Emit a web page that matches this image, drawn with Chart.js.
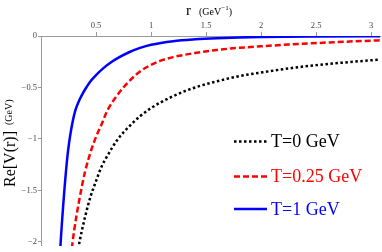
<!DOCTYPE html>
<html>
<head>
<meta charset="utf-8">
<script src="https://cdn.jsdelivr.net/npm/chart.js@4.4.0/dist/chart.umd.min.js"></script>
<style>
html, body { margin: 0; padding: 0; background: #fff; }
</style>
</head>
<body>
<canvas id="chart" width="382" height="252"></canvas>
<script>
// values
var rT0 = [0.33, 0.35, 0.4, 0.45, 0.5, 0.55, 0.6, 0.7, 0.8, 0.9, 1.0, 1.2, 1.4, 1.6, 1.8, 2.0, 2.25, 2.5, 2.75, 3.0, 3.08];
var vT0 = [-2.12, -2.0, -1.76, -1.56, -1.41, -1.27, -1.17, -1.0, -0.88, -0.78, -0.70, -0.585, -0.50, -0.44, -0.39, -0.355, -0.315, -0.283, -0.258, -0.236, -0.23];

var rT025 = [0.27, 0.3, 0.35, 0.4, 0.45, 0.5, 0.55, 0.6, 0.7, 0.8, 0.9, 1.0, 1.1, 1.2, 1.4, 1.6, 1.8, 2.0, 2.25, 2.5, 2.75, 3.0, 3.08];
var vT025 = [-2.15, -1.9, -1.58, -1.32, -1.13, -0.98, -0.86, -0.73, -0.565, -0.44, -0.345, -0.28, -0.235, -0.205, -0.165, -0.135, -0.115, -0.10, -0.083, -0.069, -0.056, -0.045, -0.042];

var rT1 = [0.17, 0.18, 0.19, 0.2, 0.21, 0.22, 0.24, 0.255, 0.27, 0.29, 0.31, 0.34, 0.37, 0.4, 0.45, 0.5, 0.57, 0.65, 0.7, 0.8, 0.9, 1.0, 1.2, 1.4, 1.6, 1.8, 2.0, 2.5, 3.0, 3.08];
var vT1 = [-2.15, -1.98, -1.82, -1.67, -1.53, -1.40, -1.17, -1.04, -0.935, -0.82, -0.73, -0.643, -0.577, -0.52, -0.44, -0.38, -0.31, -0.246, -0.213, -0.158, -0.116, -0.085, -0.05, -0.032, -0.021, -0.014, -0.009, -0.004, -0.002, -0.002];

var labels = ['T=0 GeV', 'T=0.25 GeV', 'T=1 GeV'];
var xTicks = [0.5, 1, 1.5, 2, 2.5, 3];
var yTicks = [0, -0.5, -1, -1.5, -2];

var serif = '"Liberation Serif", "DejaVu Serif", serif';

function pts(xs, ys) {
    return xs.map(function(x, i) { return {x: x, y: ys[i]}; });
}

var legendPlugin = {
    id: 'sideLegend',
    afterDraw(chart) {
        var ctx = chart.ctx;
        var rows = [141.5, 176.5, 209];
        ctx.save();
        chart.data.datasets.forEach(function(ds, i) {
            var y = rows[i];
            ctx.strokeStyle = ds.borderColor;
            ctx.lineWidth = ds.borderWidth;
            ctx.setLineDash(ds.borderDash || []);
            ctx.beginPath();
            ctx.moveTo(234, y);
            ctx.lineTo(267, y);
            ctx.stroke();
            ctx.setLineDash([]);
            ctx.fillStyle = ds.borderColor;
            ctx.font = '18px ' + serif;
            ctx.textBaseline = 'middle';
            ctx.fillText(ds.label, 271, y + 1);
        });
        ctx.restore();
    }
};

var titlePlugin = {
    id: 'axisTitles',
    afterDraw(chart) {
        var ctx = chart.ctx;
        ctx.save();
        ctx.fillStyle = '#000';
        ctx.textBaseline = 'alphabetic';
        // top axis title
        ctx.font = '15px ' + serif;
        ctx.fillText('r', 186, 15);
        ctx.font = '10px ' + serif;
        ctx.fillText('(GeV', 199, 15);
        var w = ctx.measureText('(GeV').width;
        ctx.font = '7px ' + serif;
        ctx.fillText('\u22121', 199 + w, 10);
        var w2 = ctx.measureText('\u22121').width;
        ctx.font = '10px ' + serif;
        ctx.fillText(')', 199 + w + w2, 15);
        // left axis title
        ctx.translate(15, 0);
        ctx.rotate(-Math.PI / 2);
        ctx.font = '16px ' + serif;
        ctx.fillText('Re[V(r)]', -187, 0);
        ctx.font = '10px ' + serif;
        ctx.fillText('(GeV)', -125, -3);
        ctx.restore();
    }
};

var ctx = document.getElementById('chart').getContext('2d');
new Chart(ctx, {
    type: 'line',
    data: {
        datasets: [
            {
                label: labels[0],
                data: pts(rT0, vT0),
                borderColor: '#000000',
                borderWidth: 2.5,
                borderDash: [2.5, 2.5],
                pointRadius: 0,
                fill: false,
                cubicInterpolationMode: 'monotone'
            },
            {
                label: labels[1],
                data: pts(rT025, vT025),
                borderColor: '#ff0000',
                borderWidth: 2.5,
                borderDash: [6, 3],
                pointRadius: 0,
                fill: false,
                cubicInterpolationMode: 'monotone'
            },
            {
                label: labels[2],
                data: pts(rT1, vT1),
                borderColor: '#0000ff',
                borderWidth: 2.5,
                pointRadius: 0,
                fill: false,
                cubicInterpolationMode: 'monotone'
            }
        ]
    },
    options: {
        responsive: false,
        animation: false,
        layout: { padding: { top: 0, right: 2, bottom: 0, left: 0 } },
        plugins: {
            legend: { display: false },
            tooltip: { enabled: false }
        },
        scales: {
            x: {
                type: 'linear',
                position: 'top',
                min: 0,
                max: 3.08,
                afterFit: function(s) { s.height = 36; },
                afterBuildTicks: function(s) {
                    s.ticks = xTicks.map(function(v) { return {value: v}; });
                },
                ticks: {
                    color: '#444',
                    font: { family: serif, size: 8.5 },
                    padding: 1,
                    maxRotation: 0,
                    callback: function(v) { return String(v); }
                },
                grid: { drawOnChartArea: false, tickLength: 4, color: '#999' },
                border: { color: '#999' }
            },
            y: {
                min: -2.04,
                max: 0,
                afterFit: function(s) { s.width = 41; },
                afterBuildTicks: function(s) {
                    s.ticks = yTicks.map(function(v) { return {value: v}; });
                },
                ticks: {
                    color: '#444',
                    font: { family: serif, size: 8.5 },
                    padding: 1,
                    callback: function(v) { return v === 0 ? '0' : '\u2212' + Math.abs(v); }
                },
                grid: { drawOnChartArea: false, tickLength: 3, color: '#999' },
                border: { color: '#999' }
            }
        }
    },
    plugins: [legendPlugin, titlePlugin]
});
</script>
</body>
</html>
